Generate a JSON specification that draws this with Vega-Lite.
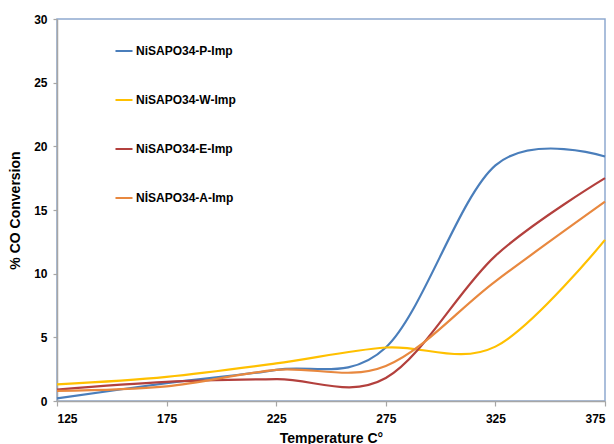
{
  "$schema": "https://vega.github.io/schema/vega-lite/v6.json",
  "autosize": "none",
  "width": 548,
  "height": 382,
  "padding": {"left": 57, "top": 19, "right": 9, "bottom": 43},
  "background": "white",
  "config": {
    "font": "Liberation Sans",
    "view": {"stroke": "#8EA9D0", "strokeWidth": 1.5}
  },
  "data": {
    "values": [
      {"T": 125, "v": 0.2, "s": "NiSAPO34-P-Imp"},
      {"T": 175, "v": 1.4, "s": "NiSAPO34-P-Imp"},
      {"T": 225, "v": 2.45, "s": "NiSAPO34-P-Imp"},
      {"T": 275, "v": 4.2, "s": "NiSAPO34-P-Imp"},
      {"T": 325, "v": 18.5, "s": "NiSAPO34-P-Imp"},
      {"T": 375, "v": 19.2, "s": "NiSAPO34-P-Imp"},
      {"T": 125, "v": 1.3, "s": "NiSAPO34-W-Imp"},
      {"T": 175, "v": 1.9, "s": "NiSAPO34-W-Imp"},
      {"T": 225, "v": 2.95, "s": "NiSAPO34-W-Imp"},
      {"T": 275, "v": 4.2, "s": "NiSAPO34-W-Imp"},
      {"T": 325, "v": 4.27, "s": "NiSAPO34-W-Imp"},
      {"T": 375, "v": 12.65, "s": "NiSAPO34-W-Imp"},
      {"T": 125, "v": 0.9, "s": "NiSAPO34-E-Imp"},
      {"T": 175, "v": 1.5, "s": "NiSAPO34-E-Imp"},
      {"T": 225, "v": 1.72, "s": "NiSAPO34-E-Imp"},
      {"T": 275, "v": 1.8, "s": "NiSAPO34-E-Imp"},
      {"T": 325, "v": 11.4, "s": "NiSAPO34-E-Imp"},
      {"T": 375, "v": 17.5, "s": "NiSAPO34-E-Imp"},
      {"T": 125, "v": 0.8, "s": "NİSAPO34-A-Imp"},
      {"T": 175, "v": 1.15, "s": "NİSAPO34-A-Imp"},
      {"T": 225, "v": 2.45, "s": "NİSAPO34-A-Imp"},
      {"T": 275, "v": 2.75, "s": "NİSAPO34-A-Imp"},
      {"T": 325, "v": 9.4, "s": "NİSAPO34-A-Imp"},
      {"T": 375, "v": 15.65, "s": "NİSAPO34-A-Imp"}
    ]
  },
  "mark": {"type": "line", "interpolate": "cardinal", "tension": 0, "strokeWidth": 2.2},
  "encoding": {
    "x": {
      "field": "T", "type": "quantitative",
      "scale": {"domain": [125, 375], "nice": false, "zero": false},
      "axis": {
        "values": [125, 175, 225, 275, 325, 375],
        "title": "Temperature  C°",
        "grid": false,
        "domainColor": "#A6A6A6", "domainWidth": 1.5,
        "tickColor": "#A6A6A6", "tickSize": 5, "tickWidth": 1.2,
        "labelFontSize": 12, "labelFontWeight": "bold", "labelColor": "#000", "labelPadding": 7,
        "titleFontSize": 14, "titleFontWeight": "bold", "titleColor": "#000", "titlePadding": 7
      }
    },
    "y": {
      "field": "v", "type": "quantitative",
      "scale": {"domain": [0, 30], "nice": false},
      "axis": {
        "values": [0, 5, 10, 15, 20, 25, 30],
        "title": "% CO Conversion",
        "grid": false,
        "domainColor": "#A6A6A6", "domainWidth": 1.5,
        "tickColor": "#A6A6A6", "tickSize": 4, "tickWidth": 1.2,
        "labelFontSize": 12, "labelFontWeight": "bold", "labelColor": "#000", "labelPadding": 6,
        "titleFontSize": 14, "titleFontWeight": "bold", "titleColor": "#000", "titlePadding": 11
      }
    },
    "color": {
      "field": "s", "type": "nominal",
      "sort": ["NiSAPO34-P-Imp", "NiSAPO34-W-Imp", "NiSAPO34-E-Imp", "NİSAPO34-A-Imp"],
      "scale": {
        "domain": ["NiSAPO34-P-Imp", "NiSAPO34-W-Imp", "NiSAPO34-E-Imp", "NİSAPO34-A-Imp"],
        "range": ["#4A7EBB", "#FFC000", "#B3403D", "#E8883F"]
      },
      "legend": {
        "title": null,
        "orient": "none",
        "legendX": 57,
        "legendY": 22,
        "symbolType": "stroke",
        "symbolSize": 290,
        "symbolStrokeWidth": 2,
        "symbolOffset": 0,
        "labelOffset": 2,
        "labelFontSize": 12,
        "labelFontWeight": "bold",
        "labelColor": "#000",
        "rowPadding": 33
      }
    }
  }
}
